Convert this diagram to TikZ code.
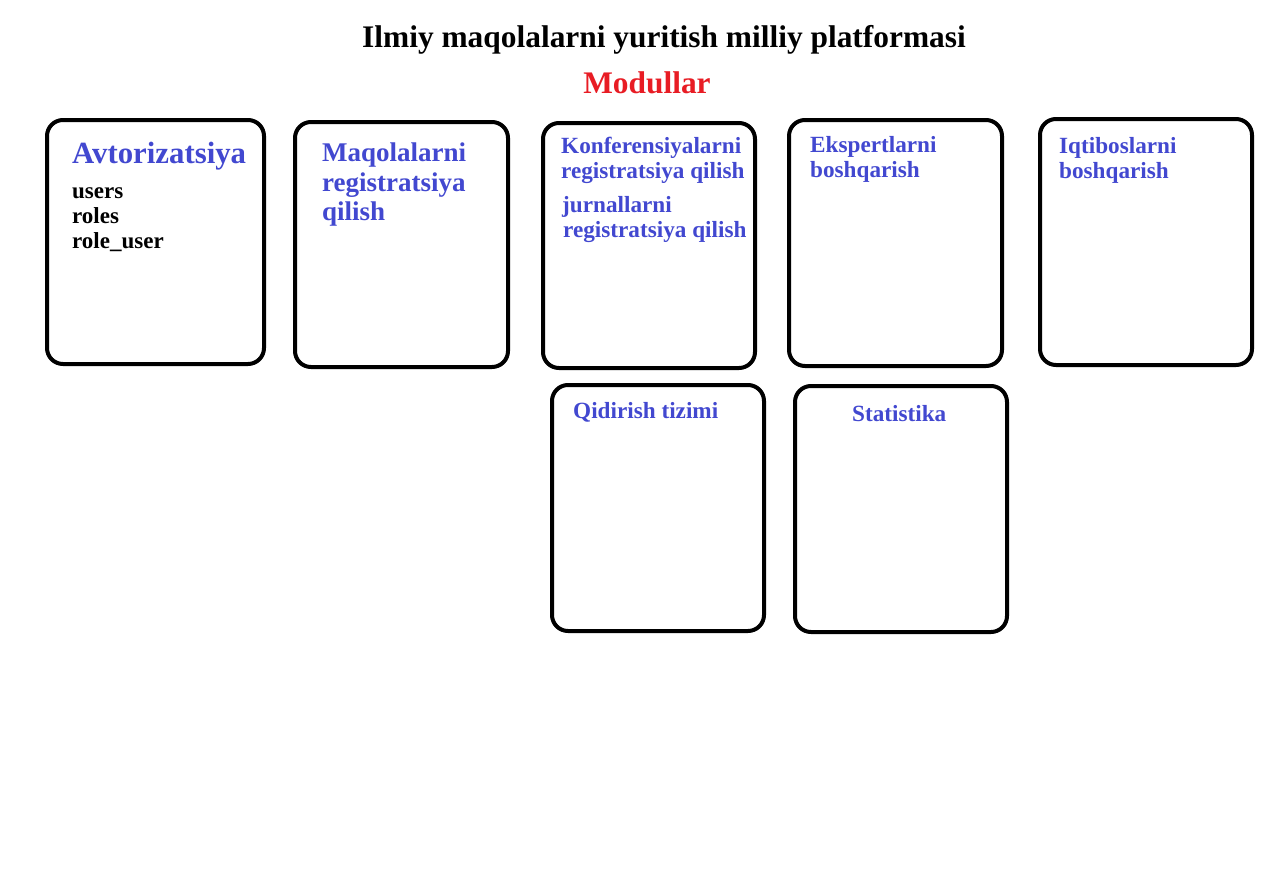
\documentclass[tikz,border=0pt]{standalone}
\usepackage{fontspec}
\setmainfont{Liberation Serif}
\definecolor{modblue}{RGB}{66,72,208}
\definecolor{modred}{RGB}{232,28,36}
\begin{document}
\begin{tikzpicture}[x=1pt,y=-1pt,
  module/.style={draw=black,line width=4pt,rounded corners=16pt},
  txt/.style={anchor=base west,inner sep=0pt,font=\bfseries\fontsize{23.2}{25}\selectfont,text=modblue},
  sub/.style={anchor=base west,inner sep=0pt,font=\bfseries\fontsize{23}{25}\selectfont,text=black}]
\useasboundingbox[fill=white] (0,0) rectangle (1280,873);
% title
\node[anchor=base,inner sep=0pt,font=\bfseries\fontsize{31.4}{33}\selectfont] (title) at (664,47) {Ilmiy maqolalarni yuritish milliy platformasi};
\node[anchor=base,inner sep=0pt,font=\bfseries\fontsize{31.4}{33}\selectfont,text=modred] (modullar) at (647,93) {Modullar};
% boxes
\draw[module] (47,120) rectangle (264,364) coordinate (b1);
\draw[module] (295,122) rectangle (508,367) coordinate (b2);
\draw[module] (543,123) rectangle (755,368) coordinate (b3);
\draw[module] (789,120) rectangle (1002,366) coordinate (b4);
\draw[module] (1040,119) rectangle (1252,365) coordinate (b5);
\draw[module] (552,385) rectangle (764,631) coordinate (b6);
\draw[module] (795,386) rectangle (1007,632) coordinate (b7);
% box 1
\node[txt,font=\bfseries\fontsize{30.8}{32}\selectfont] (avt) at (72,163) {Avtorizatsiya};
\node[sub] (users) at (72,198) {users};
\node[sub] (roles) at (72,223) {roles};
\node[sub] (roleuser) at (72,248) {role\_user};
% box 2
\node[txt,font=\bfseries\fontsize{27}{29}\selectfont] (maq1) at (322,161) {Maqolalarni};
\node[txt,font=\bfseries\fontsize{27}{29}\selectfont] (maq2) at (322,191) {registratsiya};
\node[txt,font=\bfseries\fontsize{27}{29}\selectfont] (maq3) at (322,220) {qilish};
% box 3
\node[txt] (kon1) at (561,153) {Konferensiyalarni};
\node[txt] (kon2) at (561,178) {registratsiya qilish};
\node[txt] (jur1) at (562,212) {jurnallarni};
\node[txt] (jur2) at (563,237) {registratsiya qilish};
% box 4
\node[txt] (eks1) at (810,152) {Ekspertlarni};
\node[txt] (eks2) at (810,177) {boshqarish};
% box 5
\node[txt] (iqt1) at (1059,153) {Iqtiboslarni};
\node[txt] (iqt2) at (1059,178) {boshqarish};
% box 6
\node[txt] (qid) at (573,418) {Qidirish tizimi};
% box 7
\node[txt] (stat) at (852,421) {Statistika};
\end{tikzpicture}
\end{document}
